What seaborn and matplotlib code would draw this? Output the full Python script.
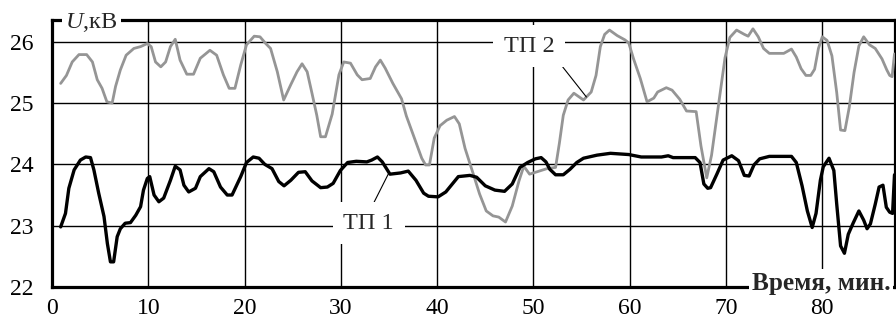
import numpy as np
import pandas as pd
import matplotlib
matplotlib.use("Agg")
import matplotlib.pyplot as plt
import seaborn as sns

# Substation TP 2 voltage, kV, against time in minutes
t_tp2 = [0.9, 1.5, 2.1, 2.8, 3.6, 4.2, 4.7, 5.2, 5.7, 6.25, 6.6, 7.1, 7.7, 8.5, 9.2,
         9.9, 10.3, 10.75, 11.3, 11.8, 12.3, 12.8, 13.3, 14.0, 14.7, 15.4, 16.4, 17.1,
         17.8, 18.4, 19.0, 19.6, 20.2, 21.0, 21.6, 22.2, 22.7, 23.4, 24.06, 24.8, 25.45,
         25.97, 26.5, 27.0, 27.5, 27.9, 28.4, 29.1, 29.8, 30.3, 31.0, 31.7, 32.2, 33.05,
         33.6, 34.1, 34.6, 35.4, 36.3, 36.8, 37.7, 38.4, 38.8, 39.2, 39.7, 40.3, 41.0,
         41.8, 42.3, 42.9, 43.8, 44.4, 45.1, 45.8, 46.4, 47.1, 47.8, 48.5, 49.0, 49.6,
         50.4, 51.4, 52.3, 52.7, 53.1, 53.6, 54.2, 55.2, 56.0, 56.5, 56.95, 57.4, 57.9,
         58.7, 59.5, 59.9, 60.4, 61.1, 61.8, 62.5, 62.9, 63.8, 64.4, 65.2, 65.9, 66.9,
         67.4, 68.0, 68.5, 69.2, 69.9, 70.4, 71.1, 71.9, 72.3, 72.8, 73.35, 73.9, 74.5,
         75.3, 76.0, 76.8, 77.3, 77.8, 78.3, 78.8, 79.2, 79.6, 80.0, 80.5, 81.0, 81.5,
         81.9, 82.35, 82.8, 83.3, 83.8, 84.3, 84.9, 85.5, 86.2, 86.7, 87.0, 87.25, 87.5]
u_tp2 = [25.32, 25.45, 25.67, 25.79, 25.79, 25.67, 25.38, 25.24, 25.02, 25.0, 25.27,
         25.54, 25.78, 25.89, 25.92, 25.97, 25.92, 25.67, 25.59, 25.67, 25.92, 26.04,
         25.70, 25.47, 25.47, 25.73, 25.86, 25.78, 25.46, 25.24, 25.24, 25.62, 25.95,
         26.09, 26.08, 25.97, 25.89, 25.51, 25.05, 25.30, 25.51, 25.64, 25.51, 25.16,
         24.80, 24.45, 24.45, 24.82, 25.46, 25.67, 25.65, 25.46, 25.38, 25.40, 25.59,
         25.70, 25.57, 25.32, 25.07, 24.79, 24.40, 24.10, 23.99, 23.99, 24.43, 24.63,
         24.72, 24.78, 24.66, 24.26, 23.82, 23.52, 23.24, 23.16, 23.14, 23.06, 23.32,
         23.73, 23.97, 23.84, 23.88, 23.93, 23.95, 24.35, 24.80, 25.05, 25.16, 25.05,
         25.18, 25.45, 25.92, 26.12, 26.19, 26.10, 26.03, 25.98, 25.72, 25.40, 25.02,
         25.08, 25.18, 25.25, 25.21, 25.06, 24.87, 24.86, 24.30, 23.78, 24.15, 24.95,
         25.74, 26.07, 26.19, 26.12, 26.09, 26.21, 26.08, 25.89, 25.81, 25.81, 25.81,
         25.88, 25.75, 25.56, 25.45, 25.45, 25.55, 25.89, 26.08, 26.02, 25.77, 25.17,
         24.56, 24.55, 24.93, 25.50, 25.93, 26.08, 25.95, 25.89, 25.72, 25.54, 25.45,
         25.43, 25.80]

# Substation TP 1 voltage, kV, against time in minutes
t_tp1 = [0.9, 1.4, 1.75, 2.3, 2.95, 3.5, 4.0, 4.35, 4.85, 5.4, 5.75, 6.07, 6.4, 6.77,
         7.1, 7.6, 8.15, 8.7, 9.2, 9.5, 9.9, 10.15, 10.6, 11.1, 11.6, 12.3, 12.8, 13.3,
         13.7, 14.2, 14.9, 15.4, 16.3, 16.8, 17.5, 18.2, 18.7, 19.6, 20.2, 20.9, 21.5,
         22.1, 22.85, 23.55, 24.1, 24.8, 25.6, 26.3, 27.0, 27.9, 28.6, 29.2, 29.95, 30.7,
         31.6, 32.7, 33.2, 33.8, 34.3, 35.1, 36.2, 37.0, 37.8, 38.6, 39.1, 40.1, 40.9,
         42.2, 43.4, 44.1, 45.0, 46.0, 47.0, 47.8, 48.6, 49.4, 50.2, 50.8, 51.3, 51.7,
         52.3, 53.1, 53.8, 54.5, 55.2, 56.6, 58.0, 59.9, 61.2, 63.3, 64.0, 64.5, 66.8,
         67.3, 67.7, 68.1, 68.4, 69.05, 69.7, 70.6, 71.3, 71.9, 72.4, 72.9, 73.5, 74.5,
         76.8, 77.3, 77.9, 78.45, 78.95, 79.35, 79.8, 80.1, 80.7, 81.2, 81.5, 81.9, 82.3,
         82.7, 83.2, 83.8, 84.3, 84.65, 85.0, 85.5, 85.9, 86.3, 86.65, 87.0, 87.3, 87.5]
u_tp1 = [22.98, 23.20, 23.61, 23.91, 24.07, 24.12, 24.11, 23.91, 23.53, 23.15, 22.71,
         22.41, 22.41, 22.82, 22.95, 23.04, 23.05, 23.17, 23.31, 23.58, 23.77, 23.80,
         23.50, 23.39, 23.45, 23.74, 23.97, 23.91, 23.66, 23.55, 23.61, 23.80, 23.93,
         23.88, 23.63, 23.50, 23.50, 23.80, 24.03, 24.12, 24.10, 24.00, 23.93, 23.72,
         23.65, 23.74, 23.87, 23.88, 23.73, 23.62, 23.63, 23.69, 23.90, 24.03, 24.05,
         24.04, 24.07, 24.12, 24.04, 23.84, 23.86, 23.89, 23.74, 23.53, 23.48, 23.47,
         23.55, 23.80, 23.82, 23.79, 23.65, 23.58, 23.56, 23.68, 23.95, 24.03, 24.09,
         24.11, 24.04, 23.92, 23.83, 23.83, 23.92, 24.03, 24.10, 24.15, 24.18, 24.16,
         24.12, 24.12, 24.14, 24.11, 24.11, 24.03, 23.68, 23.61, 23.62, 23.84, 24.07,
         24.14, 24.06, 23.82, 23.81, 23.99, 24.09, 24.13, 24.13, 24.03, 23.65, 23.24,
         22.97, 23.20, 23.74, 23.96, 24.10, 23.90, 23.35, 22.67, 22.55, 22.86, 23.04,
         23.24, 23.09, 22.95, 23.03, 23.35, 23.63, 23.66, 23.30, 23.22, 23.20, 23.83]

x_ticks = [0, 10, 20, 30, 40, 50, 60, 70, 80]
y_ticks = [22, 23, 24, 25, 26]
series_names = ["ТП 1", "ТП 2"]
x_title = "Время, мин."
y_title = "$U$,кВ"

sns.set_style("white")
plt.rcParams["font.family"] = ["Liberation Serif", "DejaVu Serif"]
plt.rcParams["mathtext.fontset"] = "custom"
plt.rcParams["mathtext.rm"] = "Liberation Serif"
plt.rcParams["mathtext.it"] = "Liberation Serif:italic"

fig = plt.figure(figsize=(8.96, 3.25), dpi=100)
ax = fig.add_axes([52 / 896, 1 - 287 / 325, 842.5 / 896, 267 / 325])

sns.lineplot(x=t_tp2, y=u_tp2, ax=ax, color="#959595", linewidth=2.0,
             estimator=None, sort=False, zorder=3)
sns.lineplot(x=t_tp1, y=u_tp1, ax=ax, color="black", linewidth=2.4,
             estimator=None, sort=False, zorder=4)

ax.set_xlim(0, 87.5)
ax.set_ylim(22, 26.354)
ax.set_xticks(x_ticks)
ax.set_yticks(y_ticks)
ax.set_xlabel("")
ax.set_ylabel("")
ax.grid(True, color="black", linewidth=1.0)
ax.set_axisbelow(True)
for sp in ax.spines.values():
    sp.set_visible(True)
    sp.set_color("black")
    sp.set_linewidth(2.3)
ax.tick_params(axis="both", length=0, labelsize=17, colors="black")
ax.tick_params(axis="y", pad=13)
ax.tick_params(axis="x", pad=8)

box = dict(facecolor="white", edgecolor="none", pad=7.5)

# Series labels with leader lines to the curves
x1 = 35.0
ax.annotate(series_names[0], xy=(x1, np.interp(x1, t_tp1, u_tp1)),
            xytext=(32.9, 23.04), ha="center", va="center", fontsize=17.5,
            bbox=box, zorder=6,
            arrowprops=dict(arrowstyle="-", color="black", lw=0.8,
                            shrinkA=0, shrinkB=0, relpos=(0.5, 1.0)))
x2 = 55.5
ax.annotate(series_names[1], xy=(x2, np.interp(x2, t_tp2, u_tp2)),
            xytext=(49.55, 25.93), ha="center", va="center", fontsize=17.5,
            bbox=box, zorder=6,
            arrowprops=dict(arrowstyle="-", color="black", lw=0.8,
                            shrinkA=0, shrinkB=0, relpos=(1.0, 0.0)))

# Axis titles placed on the frame
ax.text(0.0154, 0.989, y_title, transform=ax.transAxes, ha="left", va="center",
        fontsize=17.5, zorder=7, clip_on=False,
        bbox=dict(facecolor="white", edgecolor="none", pad=2.5))
ax.text(0.8305, -0.011, x_title, transform=ax.transAxes, ha="left", va="baseline",
        fontsize=18.2, fontweight="bold", zorder=7, clip_on=False,
        bbox=dict(facecolor="white", edgecolor="none", pad=2.0))

fig.savefig("out.png", dpi=100)
